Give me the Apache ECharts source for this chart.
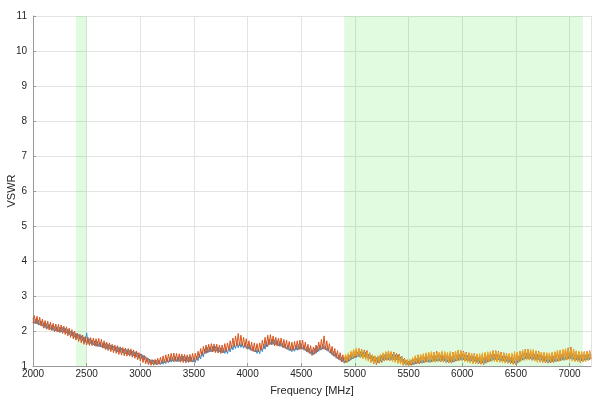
<!DOCTYPE html>
<html><head><meta charset="utf-8">
<script src="https://cdn.jsdelivr.net/npm/echarts@6/dist/echarts.min.js"></script>
<style>html,body{margin:0;padding:0;background:#fff}#c{width:600px;height:402px}</style>
</head><body><div id="c"></div>
<script>
// Frequency grid: 2000..7200 MHz, 12.5 MHz spacing (8 samples per 100 MHz)
const freqStart = 2000, freqStep = 12.5;
const xTicks = [2000,2500,3000,3500,4000,4500,5000,5500,6000,6500,7000];
const yTicks = [1,2,3,4,5,6,7,8,9,10,11];
const bands = [[2400,2500],[4900,7125]];

const vswrA = [
2.36,2.22,2.34,2.20,2.31,2.17,2.28,2.14,
2.24,2.10,2.21,2.07,2.19,2.05,2.16,2.02,
2.13,2.00,2.12,1.98,2.11,1.97,2.10,1.96,
2.08,1.94,2.05,1.90,2.00,1.86,1.97,1.82,
1.93,1.79,1.90,1.76,1.87,1.72,1.83,1.68,
1.95,1.64,1.78,1.64,1.74,1.60,1.72,1.56,
1.70,1.56,1.68,1.54,1.65,1.51,1.64,1.49,
1.62,1.48,1.60,1.46,1.57,1.43,1.55,1.40,
1.53,1.39,1.51,1.37,1.49,1.35,1.47,1.32,
1.45,1.31,1.43,1.29,1.40,1.26,1.38,1.22,
1.35,1.21,1.31,1.17,1.27,1.12,1.22,1.08,
1.18,1.06,1.17,1.05,1.16,1.04,1.16,1.04,
1.16,1.05,1.18,1.07,1.21,1.09,1.24,1.11,
1.25,1.12,1.27,1.13,1.26,1.13,1.27,1.14,
1.28,1.14,1.27,1.13,1.26,1.12,1.25,1.11,
1.24,1.10,1.28,1.15,1.34,1.20,1.40,1.26,
1.49,1.35,1.53,1.39,1.55,1.41,1.56,1.42,
1.56,1.42,1.54,1.40,1.52,1.37,1.50,1.36,
1.49,1.35,1.54,1.40,1.60,1.46,1.64,1.50,
1.66,1.52,1.68,1.53,1.66,1.51,1.64,1.50,
1.62,1.48,1.58,1.44,1.54,1.40,1.50,1.36,
1.49,1.35,1.55,1.41,1.62,1.48,1.70,1.55,
1.76,1.62,1.77,1.62,1.75,1.60,1.73,1.58,
1.70,1.56,1.66,1.52,1.62,1.48,1.58,1.44,
1.55,1.41,1.56,1.42,1.59,1.45,1.61,1.47,
1.62,1.48,1.58,1.44,1.53,1.39,1.50,1.35,
1.46,1.32,1.50,1.36,1.56,1.42,1.60,1.46,
1.62,1.48,1.58,1.44,1.52,1.38,1.46,1.31,
1.42,1.27,1.36,1.21,1.30,1.16,1.26,1.12,
1.24,1.10,1.27,1.13,1.31,1.17,1.35,1.21,
1.38,1.24,1.40,1.26,1.41,1.27,1.40,1.26,
1.39,1.24,1.34,1.20,1.30,1.15,1.27,1.12,
1.24,1.10,1.27,1.13,1.30,1.16,1.32,1.18,
1.33,1.18,1.32,1.18,1.33,1.18,1.32,1.17,
1.32,1.17,1.26,1.12,1.20,1.07,1.16,1.04,
1.14,1.03,1.16,1.04,1.19,1.06,1.21,1.08,
1.22,1.09,1.24,1.10,1.25,1.11,1.26,1.11,
1.26,1.12,1.28,1.13,1.29,1.14,1.30,1.15,
1.30,1.15,1.29,1.14,1.27,1.12,1.26,1.11,
1.26,1.11,1.29,1.14,1.31,1.16,1.32,1.17,
1.33,1.18,1.31,1.16,1.30,1.15,1.29,1.14,
1.28,1.13,1.26,1.11,1.24,1.09,1.23,1.08,
1.22,1.08,1.26,1.11,1.29,1.14,1.32,1.17,
1.33,1.18,1.32,1.17,1.30,1.15,1.29,1.14,
1.28,1.13,1.26,1.11,1.24,1.09,1.23,1.08,
1.22,1.08,1.27,1.12,1.32,1.17,1.35,1.20,
1.36,1.21,1.35,1.20,1.34,1.19,1.33,1.18,
1.33,1.18,1.31,1.16,1.29,1.14,1.27,1.12,
1.26,1.11,1.27,1.12,1.28,1.13,1.29,1.14,
1.30,1.15,1.32,1.17,1.34,1.19,1.35,1.20,
1.36,1.21,1.34,1.19,1.32,1.17,1.31,1.16,
1.30,1.15,1.31,1.16,1.32,1.17,1.33,1.18,
1.32];

const vswrB = [
2.22,2.44,2.20,2.42,2.17,2.39,2.14,2.34,
2.08,2.30,2.05,2.28,2.03,2.25,2.01,2.22,
1.98,2.20,1.97,2.19,1.95,2.17,1.93,2.14,
1.90,2.12,1.86,2.08,1.82,2.04,1.78,2.00,
1.74,1.94,1.70,1.91,1.66,1.88,1.62,1.84,
1.60,1.82,1.59,1.81,1.58,1.80,1.57,1.78,
1.56,1.79,1.54,1.76,1.51,1.72,1.47,1.68,
1.44,1.66,1.41,1.62,1.38,1.60,1.36,1.58,
1.33,1.55,1.31,1.53,1.29,1.51,1.28,1.50,
1.28,1.49,1.25,1.46,1.22,1.43,1.18,1.38,
1.14,1.34,1.10,1.30,1.06,1.24,1.04,1.20,
1.02,1.18,1.02,1.19,1.03,1.22,1.05,1.25,
1.07,1.29,1.09,1.32,1.11,1.34,1.12,1.36,
1.14,1.37,1.13,1.36,1.12,1.35,1.11,1.34,
1.10,1.33,1.09,1.32,1.10,1.33,1.12,1.36,
1.12,1.36,1.18,1.42,1.24,1.50,1.30,1.56,
1.36,1.60,1.38,1.62,1.40,1.64,1.40,1.63,
1.38,1.62,1.37,1.60,1.36,1.60,1.38,1.64,
1.40,1.66,1.45,1.72,1.50,1.80,1.54,1.86,
1.58,1.93,1.58,1.88,1.56,1.82,1.54,1.78,
1.48,1.72,1.45,1.68,1.42,1.66,1.40,1.64,
1.40,1.66,1.45,1.74,1.50,1.82,1.55,1.88,
1.60,1.90,1.60,1.86,1.58,1.82,1.57,1.80,
1.56,1.80,1.53,1.76,1.50,1.74,1.47,1.70,
1.44,1.68,1.45,1.70,1.46,1.72,1.47,1.74,
1.48,1.74,1.45,1.68,1.40,1.62,1.36,1.58,
1.30,1.54,1.34,1.60,1.40,1.68,1.45,1.76,
1.48,1.86,1.46,1.72,1.42,1.64,1.36,1.56,
1.28,1.50,1.22,1.44,1.18,1.38,1.12,1.32,
1.08,1.30,1.10,1.34,1.14,1.40,1.20,1.46,
1.24,1.48,1.26,1.50,1.24,1.48,1.22,1.46,
1.20,1.44,1.16,1.38,1.10,1.32,1.06,1.28,
1.04,1.26,1.08,1.32,1.10,1.36,1.14,1.40,
1.16,1.42,1.15,1.41,1.14,1.40,1.13,1.36,
1.10,1.34,1.06,1.28,1.02,1.22,1.02,1.18,
1.00,1.16,1.02,1.22,1.04,1.28,1.06,1.32,
1.06,1.32,1.08,1.34,1.10,1.36,1.11,1.38,
1.10,1.38,1.12,1.40,1.14,1.42,1.13,1.40,
1.12,1.40,1.11,1.38,1.10,1.36,1.09,1.38,
1.08,1.40,1.11,1.42,1.14,1.45,1.15,1.44,
1.16,1.42,1.14,1.40,1.12,1.38,1.10,1.36,
1.08,1.36,1.07,1.34,1.06,1.32,1.05,1.34,
1.04,1.36,1.08,1.38,1.12,1.40,1.14,1.44,
1.14,1.44,1.13,1.42,1.12,1.40,1.11,1.38,
1.10,1.36,1.08,1.35,1.06,1.34,1.05,1.36,
1.04,1.38,1.10,1.42,1.16,1.46,1.17,1.48,
1.18,1.48,1.17,1.46,1.16,1.44,1.14,1.43,
1.12,1.42,1.11,1.40,1.10,1.38,1.09,1.37,
1.08,1.36,1.09,1.38,1.10,1.40,1.12,1.44,
1.14,1.44,1.15,1.46,1.16,1.48,1.17,1.52,
1.18,1.54,1.16,1.48,1.14,1.42,1.12,1.40,
1.10,1.40,1.12,1.41,1.14,1.42,1.16,1.44,
1.20];

// third trace starts at 4900 MHz
const freqStartC = 4900;
const vswrC = [
1.12,1.34,1.14,1.38,1.18,1.44,1.22,1.48,
1.28,1.52,1.26,1.50,1.24,1.46,1.20,1.42,
1.16,1.40,1.13,1.36,1.10,1.32,1.08,1.30,
1.08,1.30,1.11,1.34,1.14,1.38,1.16,1.42,
1.18,1.44,1.15,1.40,1.12,1.36,1.10,1.32,
1.06,1.30,1.05,1.26,1.04,1.20,1.03,1.18,
1.02,1.20,1.05,1.25,1.08,1.30,1.09,1.32,
1.10,1.34,1.11,1.36,1.12,1.38,1.12,1.40,
1.12,1.42,1.11,1.40,1.10,1.38,1.12,1.40,
1.14,1.44,1.13,1.42,1.12,1.40,1.11,1.42,
1.10,1.38,1.13,1.42,1.16,1.46,1.15,1.43,
1.14,1.40,1.12,1.38,1.10,1.36,1.08,1.36,
1.06,1.34,1.07,1.35,1.08,1.36,1.07,1.38,
1.06,1.40,1.10,1.41,1.14,1.42,1.13,1.42,
1.12,1.42,1.11,1.40,1.10,1.38,1.09,1.36,
1.08,1.34,1.08,1.36,1.08,1.38,1.07,1.42,
1.06,1.40,1.10,1.43,1.14,1.46,1.15,1.46,
1.16,1.46,1.17,1.47,1.18,1.48,1.14,1.44,
1.10,1.40,1.11,1.40,1.12,1.40,1.11,1.39,
1.10,1.38,1.11,1.40,1.12,1.42,1.12,1.44,
1.12,1.46,1.15,1.48,1.18,1.50,1.17,1.50,
1.16,1.50,1.14,1.47,1.12,1.44,1.12,1.43,
1.12,1.42,1.12,1.41,1.12,1.40,1.15,1.42,
1.18];

const pairs = (start, arr) => arr.map((v, i) => [start + i * freqStep, v]);

const chart = echarts.init(document.getElementById('c'), null, {renderer: 'canvas'});
const axisCol = '#9a9a9a', txtCol = '#262626', gridCol = '#e3e3e3';
const font = 'Arial, "Liberation Sans", sans-serif';
chart.setOption({
  animation: false,
  grid: {left: 33, right: 9, top: 16, bottom: 36, containLabel: false, outerBoundsMode: 'none'},
  xAxis: {
    type: 'value', min: 2000, max: 7200, interval: 500,
    name: 'Frequency [MHz]', nameLocation: 'middle', nameGap: 19, nameMoveOverlap: false,
    nameTextStyle: {color: txtCol, fontSize: 11, fontFamily: font},
    axisLine: {show: true, lineStyle: {color: axisCol}},
    axisTick: {show: true, inside: true, length: 3, lineStyle: {color: axisCol}},
    axisLabel: {color: txtCol, fontSize: 10, margin: 3, fontFamily: font,
      showMaxLabel: false,
      formatter: v => xTicks.includes(v) ? String(v) : ''},
    splitLine: {show: true, lineStyle: {color: gridCol}}
  },
  yAxis: {
    type: 'value', min: 1, max: 11, interval: 1,
    name: 'VSWR', nameLocation: 'middle', nameGap: 16, nameMoveOverlap: false,
    nameTextStyle: {color: txtCol, fontSize: 11, fontFamily: font},
    axisLine: {show: true, lineStyle: {color: axisCol}},
    axisTick: {show: true, inside: true, length: 3, lineStyle: {color: axisCol}},
    axisLabel: {color: txtCol, fontSize: 10, margin: 6, fontFamily: font,
      formatter: v => yTicks.includes(v) ? String(v) : ''},
    splitLine: {show: true, lineStyle: {color: gridCol}}
  },
  series: [
    {type: 'line', name: 'A', data: pairs(freqStart, vswrA), showSymbol: false,
     lineStyle: {color: '#2b8fd6', width: 1}, itemStyle: {color: '#2b8fd6'}, z: 3,
     markArea: {silent: true, itemStyle: {color: 'rgba(0,220,0,0.12)'},
       data: bands.map(b => [{xAxis: b[0]}, {xAxis: b[1]}])}},
    {type: 'line', name: 'B', data: pairs(freqStart, vswrB), showSymbol: false,
     lineStyle: {color: '#D95319', width: 1}, itemStyle: {color: '#D95319'}, z: 4},
    {type: 'line', name: 'C', data: pairs(freqStartC, vswrC), showSymbol: false,
     lineStyle: {color: '#EDB120', width: 1, opacity: 0.85}, itemStyle: {color: '#EDB120'}, z: 5}
  ]
});
</script></body></html>
